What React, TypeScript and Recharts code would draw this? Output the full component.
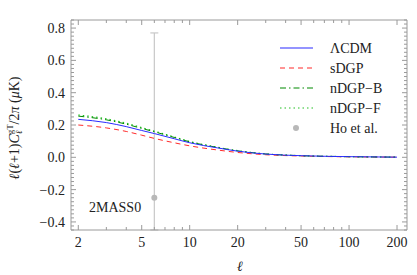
import React from 'react';
import { ComposedChart, Line, Scatter, ErrorBar, XAxis, YAxis } from 'recharts';

// multipoles where the model curves are sampled
const ells = [2, 3, 4, 5, 6, 8, 10, 15, 20, 30, 50, 100, 200];
const lcdm = [0.235, 0.215, 0.19, 0.166, 0.147, 0.115, 0.09, 0.058, 0.038, 0.02, 0.01, 0.004, 0.001];
const sdgp = [0.2, 0.182, 0.16, 0.137, 0.117, 0.09, 0.071, 0.045, 0.03, 0.016, 0.008, 0.003, 0.001];
const ndgpB = [0.255, 0.232, 0.205, 0.179, 0.158, 0.123, 0.096, 0.061, 0.04, 0.021, 0.01, 0.004, 0.001];
const ndgpF = [0.262, 0.238, 0.211, 0.184, 0.162, 0.126, 0.098, 0.062, 0.041, 0.021, 0.01, 0.004, 0.001];

// Ho et al. 2MASS0 bin
const hoEll = [6];
const hoValue = [-0.25];
const hoErr = [[0.2, 1.02]];

const xMajor = [2, 5, 10, 20, 50, 100, 200];
const xMinor = [3, 4, 6, 7, 8, 9, 30, 40, 60, 70, 80, 90];
const yMajor = [-0.4, -0.2, 0, 0.2, 0.4, 0.6, 0.8];

const yTicks: number[] = [];
for (let i = -18; i <= 34; i++) yTicks.push(Math.round(i * 0.025 * 1000) / 1000);

const data = ells.map((l, i) => ({ l, lcdm: lcdm[i], sdgp: sdgp[i], ndgpB: ndgpB[i], ndgpF: ndgpF[i] }));
const hoData = hoEll.map((l, i) => ({ l, v: hoValue[i], err: hoErr[i] }));

const FONT = '"Liberation Serif", "DejaVu Serif", serif';
const FRAME = '#9a9a9a';

const isMajorY = (v: number) => yMajor.some((m) => Math.abs(m - v) < 1e-6);
const isMajorX = (v: number) => xMajor.includes(v);

const fmtY = (v: number) => (Math.abs(v) < 1e-9 ? '0.0' : v.toFixed(1).replace('-', '\u2212'));

const BottomTick = (props: any) => {
  const { x, y, payload } = props;
  const major = isMajorX(payload.value);
  return (
    <g>
      <line x1={x} x2={x} y1={y} y2={y - (major ? 5 : 3)} stroke={FRAME} />
      {major && (
        <text x={x} y={y + 17} textAnchor="middle" fontFamily={FONT} fontSize={14} fill="#222">
          {payload.value}
        </text>
      )}
    </g>
  );
};

const TopTick = (props: any) => {
  const { x, y, payload } = props;
  const major = isMajorX(payload.value);
  return <line x1={x} x2={x} y1={y} y2={y + (major ? 5 : 3)} stroke={FRAME} />;
};

const LeftTick = (props: any) => {
  const { x, y, payload } = props;
  const major = isMajorY(payload.value);
  return (
    <g>
      <line x1={x} x2={x + (major ? 5 : 3)} y1={y} y2={y} stroke={FRAME} />
      {major && (
        <text x={x - 6} y={y + 5} textAnchor="end" fontFamily={FONT} fontSize={14} fill="#222">
          {fmtY(payload.value)}
        </text>
      )}
    </g>
  );
};

const RightTick = (props: any) => {
  const { x, y, payload } = props;
  const major = isMajorY(payload.value);
  return <line x1={x} x2={x - (major ? 5 : 3)} y1={y} y2={y} stroke={FRAME} />;
};

const legendRows = [
  { name: '\u039BCDM', color: '#2a2aff', dash: undefined as string | undefined, y: 48 },
  { name: 'sDGP', color: '#ff2a2a', dash: '5 4', y: 68 },
  { name: 'nDGP\u2212B', color: '#008a00', dash: '6 3 1.5 3', y: 88 },
  { name: 'nDGP\u2212F', color: '#22c022', dash: '1.5 3', y: 108 },
];

export default function App() {
  return (
    <div style={{ position: 'absolute', left: 0, top: 0, width: 417, height: 275, background: '#fff' }}>
      <ComposedChart width={417} height={275} data={data} margin={{ top: 19, right: 9, bottom: 0, left: 0 }}>
        <XAxis
          xAxisId="b"
          dataKey="l"
          type="number"
          scale="log"
          domain={[1.8, 231]}
          allowDataOverflow
          ticks={[...xMajor, ...xMinor]}
          interval={0}
          tickSize={0}
          tickMargin={0}
          tickLine={false}
          tick={BottomTick}
          axisLine={{ stroke: FRAME }}
          height={45}
        />
        <XAxis
          xAxisId="t"
          orientation="top"
          dataKey="l"
          type="number"
          scale="log"
          domain={[1.8, 231]}
          allowDataOverflow
          ticks={[...xMajor, ...xMinor]}
          interval={0}
          tickSize={0}
          tickMargin={0}
          tickLine={false}
          tick={TopTick}
          axisLine={{ stroke: FRAME }}
          height={1}
        />
        <YAxis
          yAxisId="l"
          type="number"
          domain={[-0.45, 0.85]}
          allowDataOverflow
          ticks={yTicks}
          interval={0}
          tickSize={0}
          tickMargin={0}
          tickLine={false}
          tick={LeftTick}
          axisLine={{ stroke: FRAME }}
          width={71}
        />
        <YAxis
          yAxisId="r"
          orientation="right"
          type="number"
          domain={[-0.45, 0.85]}
          allowDataOverflow
          ticks={yTicks}
          interval={0}
          tickSize={0}
          tickMargin={0}
          tickLine={false}
          tick={RightTick}
          axisLine={{ stroke: FRAME }}
          width={1}
        />
        <Scatter xAxisId="b" yAxisId="l" data={hoData} dataKey="v" fill="#b8b8b8" isAnimationActive={false} shape={(p: any) => <circle cx={p.cx} cy={p.cy} r={3} fill="#b8b8b8" />}>
          <ErrorBar dataKey="err" direction="y" stroke="#c8c8c8" strokeWidth={1.2} width={4} isAnimationActive={false} />
        </Scatter>
        <Line xAxisId="b" yAxisId="l" dataKey="sdgp" type="monotone" stroke="#ff2a2a" strokeWidth={1} strokeDasharray="5 4" dot={false} isAnimationActive={false} />
        <Line xAxisId="b" yAxisId="l" dataKey="ndgpF" type="monotone" stroke="#22c022" strokeWidth={1.2} strokeDasharray="1.5 3" dot={false} isAnimationActive={false} />
        <Line xAxisId="b" yAxisId="l" dataKey="ndgpB" type="monotone" stroke="#008a00" strokeWidth={1} strokeDasharray="6 3 1.5 3" dot={false} isAnimationActive={false} />
        <Line xAxisId="b" yAxisId="l" dataKey="lcdm" type="monotone" stroke="#2a2aff" strokeWidth={1} dot={false} isAnimationActive={false} />
      </ComposedChart>
      <svg width={417} height={275} style={{ position: 'absolute', left: 0, top: 0, pointerEvents: 'none' }}>
        {legendRows.map((r) => (
          <g key={r.name}>
            <line x1={280} x2={313} y1={r.y} y2={r.y} stroke={r.color} strokeWidth={1.2} strokeDasharray={r.dash} />
            <text x={330} y={r.y + 5} fontFamily={FONT} fontSize={14} fill="#222">{r.name}</text>
          </g>
        ))}
        <circle cx={296} cy={128} r={3} fill="#b8b8b8" />
        <text x={330} y={133} fontFamily={FONT} fontSize={14} fill="#222">Ho et al.</text>
        <text x={89} y={212} fontFamily={FONT} fontSize={14} fill="#222">2MASS0</text>
        <text x={240} y={271} fontFamily={FONT} fontSize={14} fontStyle="italic" textAnchor="middle" fill="#222">{'\u2113'}</text>
        <text transform="translate(19,128) rotate(-90)" fontFamily={FONT} fontSize={14} textAnchor="middle" fill="#222">
          <tspan fontStyle="italic">{'\u2113'}</tspan>
          <tspan>(</tspan>
          <tspan fontStyle="italic">{'\u2113'}</tspan>
          <tspan>+1)</tspan>
          <tspan fontStyle="italic">C</tspan>
          <tspan fontSize={9} dy={-6}>gT</tspan>
          <tspan fontSize={9} fontStyle="italic" dx={-10} dy={9}>{'\u2113'}</tspan>
          <tspan dx={6} dy={-3}>/2</tspan>
          <tspan fontStyle="italic">{'\u03C0'}</tspan>
          <tspan>{'  ('}</tspan>
          <tspan fontStyle="italic">{'\u03BC'}</tspan>
          <tspan>K)</tspan>
        </text>
      </svg>
    </div>
  );
}
